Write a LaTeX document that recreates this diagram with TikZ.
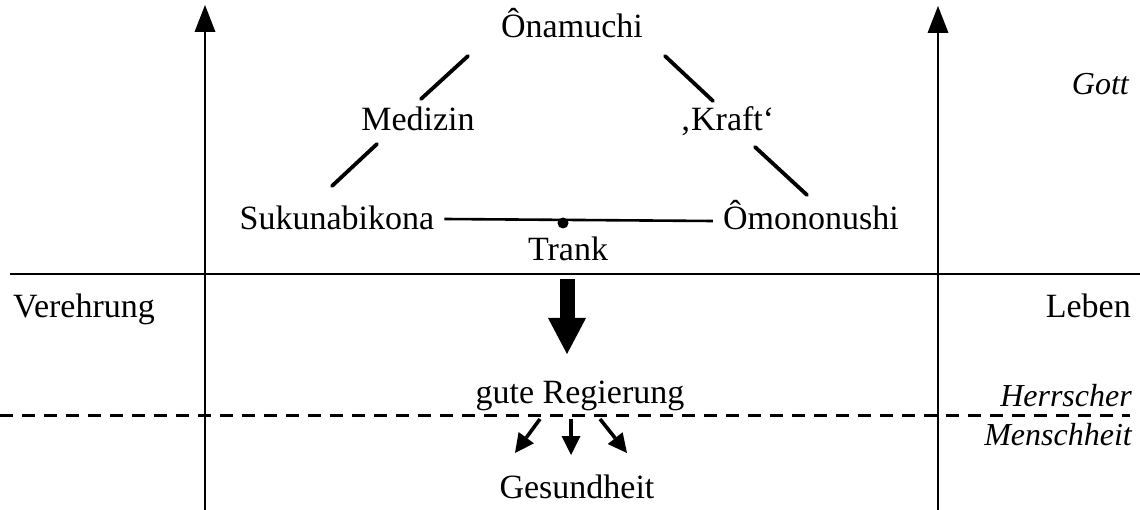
\documentclass[tikz,border=0pt]{standalone}
\usepackage{fontspec}
\setmainfont{Liberation Serif}
\usetikzlibrary{arrows.meta,calc}
\begin{document}
\begin{tikzpicture}[x=1pt,y=-1pt,
  lbl/.style={font=\fontsize{34}{38}\selectfont, inner sep=0pt, anchor=base},
  side/.style={font=\fontsize{32}{36}\selectfont\itshape, inner sep=0pt, anchor=base east},
  axis/.style={line width=2.8pt, -{Triangle[width=21pt,length=27pt,line width=0pt]}},
  link/.style={line width=3.8pt, line cap=round},
  small/.style={line width=3.6pt, -{Triangle[width=19pt,length=19pt,line width=0pt]}},
]
\useasboundingbox (0,0) rectangle (1140,510);

% vertical axes
\coordinate (la0) at (205,510); \coordinate (la1) at (205,5);
\coordinate (ra0) at (938,510); \coordinate (ra1) at (938,6);
\draw[axis] (la0) -- (la1);
\draw[axis] (ra0) -- (ra1);

% separating lines
\coordinate (h0) at (10,274); \coordinate (h1) at (1140,274);
\draw[line width=2.6pt] (h0) -- (h1);
\coordinate (d0) at (0,415); \coordinate (d1) at (1130,415);
\draw[line width=3pt, dash pattern=on 13pt off 9pt] (d0) -- (d1);

% deities
\node[lbl] (ona) at (572,38) {Ônamuchi};
\node[lbl] (med) at (418,131) {Medizin};
\node[lbl] (kra) at (727,131) {‚Kraft‘};
\node[lbl] (suk) at (337,230) {Sukunabikona};
\node[lbl] (omo) at (811,230) {Ômononushi};
\node[lbl] (tra) at (568,261) {Trank};

\draw[link] (468,56) -- (421,99);
\draw[link] (377,144) -- (332,186);
\draw[link] (665,56) -- (713,101);
\draw[link] (755,147) -- (807,195);

\draw[line width=2.6pt] ($(suk.base east)+(10,-11)$) coordinate (s1) -- ($(omo.base west)+(-10,-9)$) coordinate (o1);
\fill (563,223) circle (5.5pt);

% consequences
\coordinate (b0) at (567,279); \coordinate (b1) at (567,354);
\draw[line width=15pt, -{Triangle[width=38pt,length=36pt,line width=0pt]}] (b0) -- (b1);

\node[lbl] (reg) at (580,403) {gute Regierung};
\node[lbl] (ges) at (577,498) {Gesundheit};

\draw[small] (540,419) -- (515,453);
\draw[small] (571,419) -- (571,455);
\draw[small] (600,419) -- (627,453);

% side labels
\node[lbl, anchor=base west] (ver) at (13,318) {Verehrung};
\node[lbl, anchor=base east] (leb) at (1131,318) {Leben};
\node[side] (got) at (1129,95) {Gott};
\node[side] (her) at (1132,406) {Herrscher};
\node[side] (men) at (1132,445) {Menschheit};
\end{tikzpicture}
\end{document}
